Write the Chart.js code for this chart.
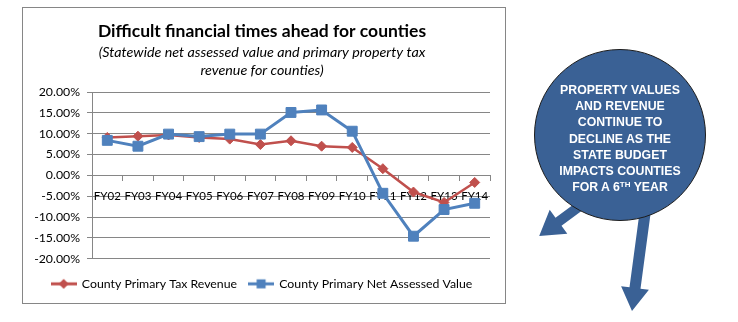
<!DOCTYPE html>
<html lang="en">
<head>
<meta charset="UTF-8">
<title>Difficult financial times ahead for counties</title>
<script src="https://cdn.jsdelivr.net/npm/chart.js"></script>
<style>
  html, body { margin: 0; padding: 0; background: #fff; }
  body { width: 738px; height: 322px; position: relative; overflow: hidden; }
  #frame { position: absolute; left: 22px; top: 7px; width: 482px; height: 295px; border: 1px solid #868686; }
  #chart { position: absolute; left: 0; top: 0; }
  #arrows { position: absolute; left: 0; top: 0; }
  #bubble { position: absolute; left: 534px; top: 49px; width: 172px; height: 172px; border-radius: 50%;
            background: #3a6195; border: 1px solid #1c1c1c; box-sizing: border-box; }
  #bubbleText { position: absolute; left: 525px; top: 82px; width: 190px; text-align: center; color: #fff;
                font: bold 12.3px "Liberation Sans", Arial, sans-serif; line-height: 16.2px; }
  #bubbleText sup { font-size: 8px; line-height: 0; vertical-align: 4px; }
</style>
</head>
<body>
<div id="frame"></div>
<canvas id="chart" width="738" height="322"></canvas>
<svg id="arrows" width="738" height="322">
  <polygon fill="#3a6195" points="585,196 555.5,217.7 549.7,209.7 539.2,235.9 567.3,233.7 561.5,225.7 591,204"/>
  <polygon fill="#3a6195" points="641.3,199.3 629.5,287.3 621.1,286.2 632,311 648.9,289.8 640.5,288.7 652.3,200.7"/>
</svg>
<div id="bubble"></div>
<div id="bubbleText">PROPERTY VALUES<br>AND REVENUE<br>CONTINUE TO<br>DECLINE AS THE<br>STATE BUDGET<br>IMPACTS COUNTIES<br>FOR A 6<sup>TH</sup> YEAR</div>

<script>
// yearly change, percent
const categories = ['FY02', 'FY03', 'FY04', 'FY05', 'FY06', 'FY07', 'FY08', 'FY09', 'FY10', 'FY11', 'FY12', 'FY13', 'FY14'];
const taxRevenue = [9.1, 9.4, 9.7, 9.1, 8.7, 7.4, 8.3, 7.0, 6.7, 1.6, -4.0, -6.5, -1.7];
const netAssessed = [8.4, 7.0, 9.9, 9.3, 9.9, 9.9, 15.1, 15.7, 10.6, -4.3, -14.6, -8.2, -6.7];
const yMin = -20, yMax = 20, yStep = 5;

const red = '#c0504d';
const blue = '#4f81bd';
const gridGray = '#868686';

Chart.defaults.color = '#000';
Chart.defaults.font.family = 'Lato, "Liberation Sans", sans-serif';

// little line-with-marker swatches for the legend
function swatch(color, shape) {
    const c = document.createElement('canvas');
    c.width = 26; c.height = 12;
    const g = c.getContext('2d');
    g.strokeStyle = color; g.fillStyle = color; g.lineWidth = 3;
    g.beginPath(); g.moveTo(0, 6); g.lineTo(26, 6); g.stroke();
    if (shape === 'rect') {
        g.fillRect(8.5, 1.5, 9, 9);
    } else {
        g.beginPath();
        g.moveTo(13, 1); g.lineTo(18, 6); g.lineTo(13, 11); g.lineTo(8, 6);
        g.closePath(); g.fill();
    }
    return c;
}
const swatches = [swatch(blue, 'rect'), swatch(red, 'diamond')];

new Chart(document.getElementById('chart'), {
    type: 'line',
    data: {
        labels: categories,
        datasets: [{
            label: 'County Primary Net Assessed Value',
            data: netAssessed,
            borderColor: blue,
            backgroundColor: blue,
            borderWidth: 3,
            pointStyle: 'rect',
            pointRadius: 7,
            pointBorderWidth: 1
        }, {
            label: 'County Primary Tax Revenue',
            data: taxRevenue,
            borderColor: red,
            backgroundColor: red,
            borderWidth: 2.5,
            pointStyle: 'rectRot',
            pointRadius: 5,
            pointBorderWidth: 1
        }]
    },
    options: {
        responsive: false,
        animation: false,
        layout: { padding: { left: 34, right: 248, top: 7, bottom: 22 } },
        scales: {
            x: {
                position: { y: 0 },
                offset: true,
                grid: { drawOnChartArea: false, color: gridGray, tickLength: 5, offset: true },
                border: { color: gridGray },
                ticks: { font: { size: 11.5 }, padding: 9, maxRotation: 0, autoSkip: false }
            },
            y: {
                min: yMin,
                max: yMax,
                afterFit: s => { s.width = 58; },
                grid: { color: gridGray, tickLength: 5 },
                border: { color: gridGray },
                ticks: {
                    stepSize: yStep,
                    autoSkip: false,
                    padding: 7,
                    font: { size: 12.3 },
                    callback: v => v.toFixed(2) + '%'
                }
            }
        },
        plugins: {
            title: {
                display: true,
                text: 'Difficult financial times ahead for counties',
                font: { size: 17.5, weight: 'bold' },
                padding: { top: 14, bottom: 0 }
            },
            subtitle: {
                display: true,
                text: ['(Statewide net assessed value and primary property tax', 'revenue for counties)'],
                font: { size: 14.3, style: 'italic', lineHeight: 1.26 },
                padding: { top: 1, bottom: 13 }
            },
            legend: {
                position: 'bottom',
                // empty title only adds space above the entries
                title: { display: true, text: '', font: { size: 1, lineHeight: 1 }, padding: { top: 6, bottom: 0 } },
                labels: {
                    usePointStyle: true,
                    pointStyleWidth: 24,
                    padding: 12,
                    font: { size: 12.3 },
                    sort: (a, b) => b.datasetIndex - a.datasetIndex,
                    generateLabels(chart) {
                        const items = Chart.defaults.plugins.legend.labels.generateLabels(chart);
                        items.forEach(it => { it.pointStyle = swatches[it.datasetIndex]; });
                        return items;
                    }
                }
            },
            tooltip: { enabled: false }
        }
    }
});
</script>
</body>
</html>
